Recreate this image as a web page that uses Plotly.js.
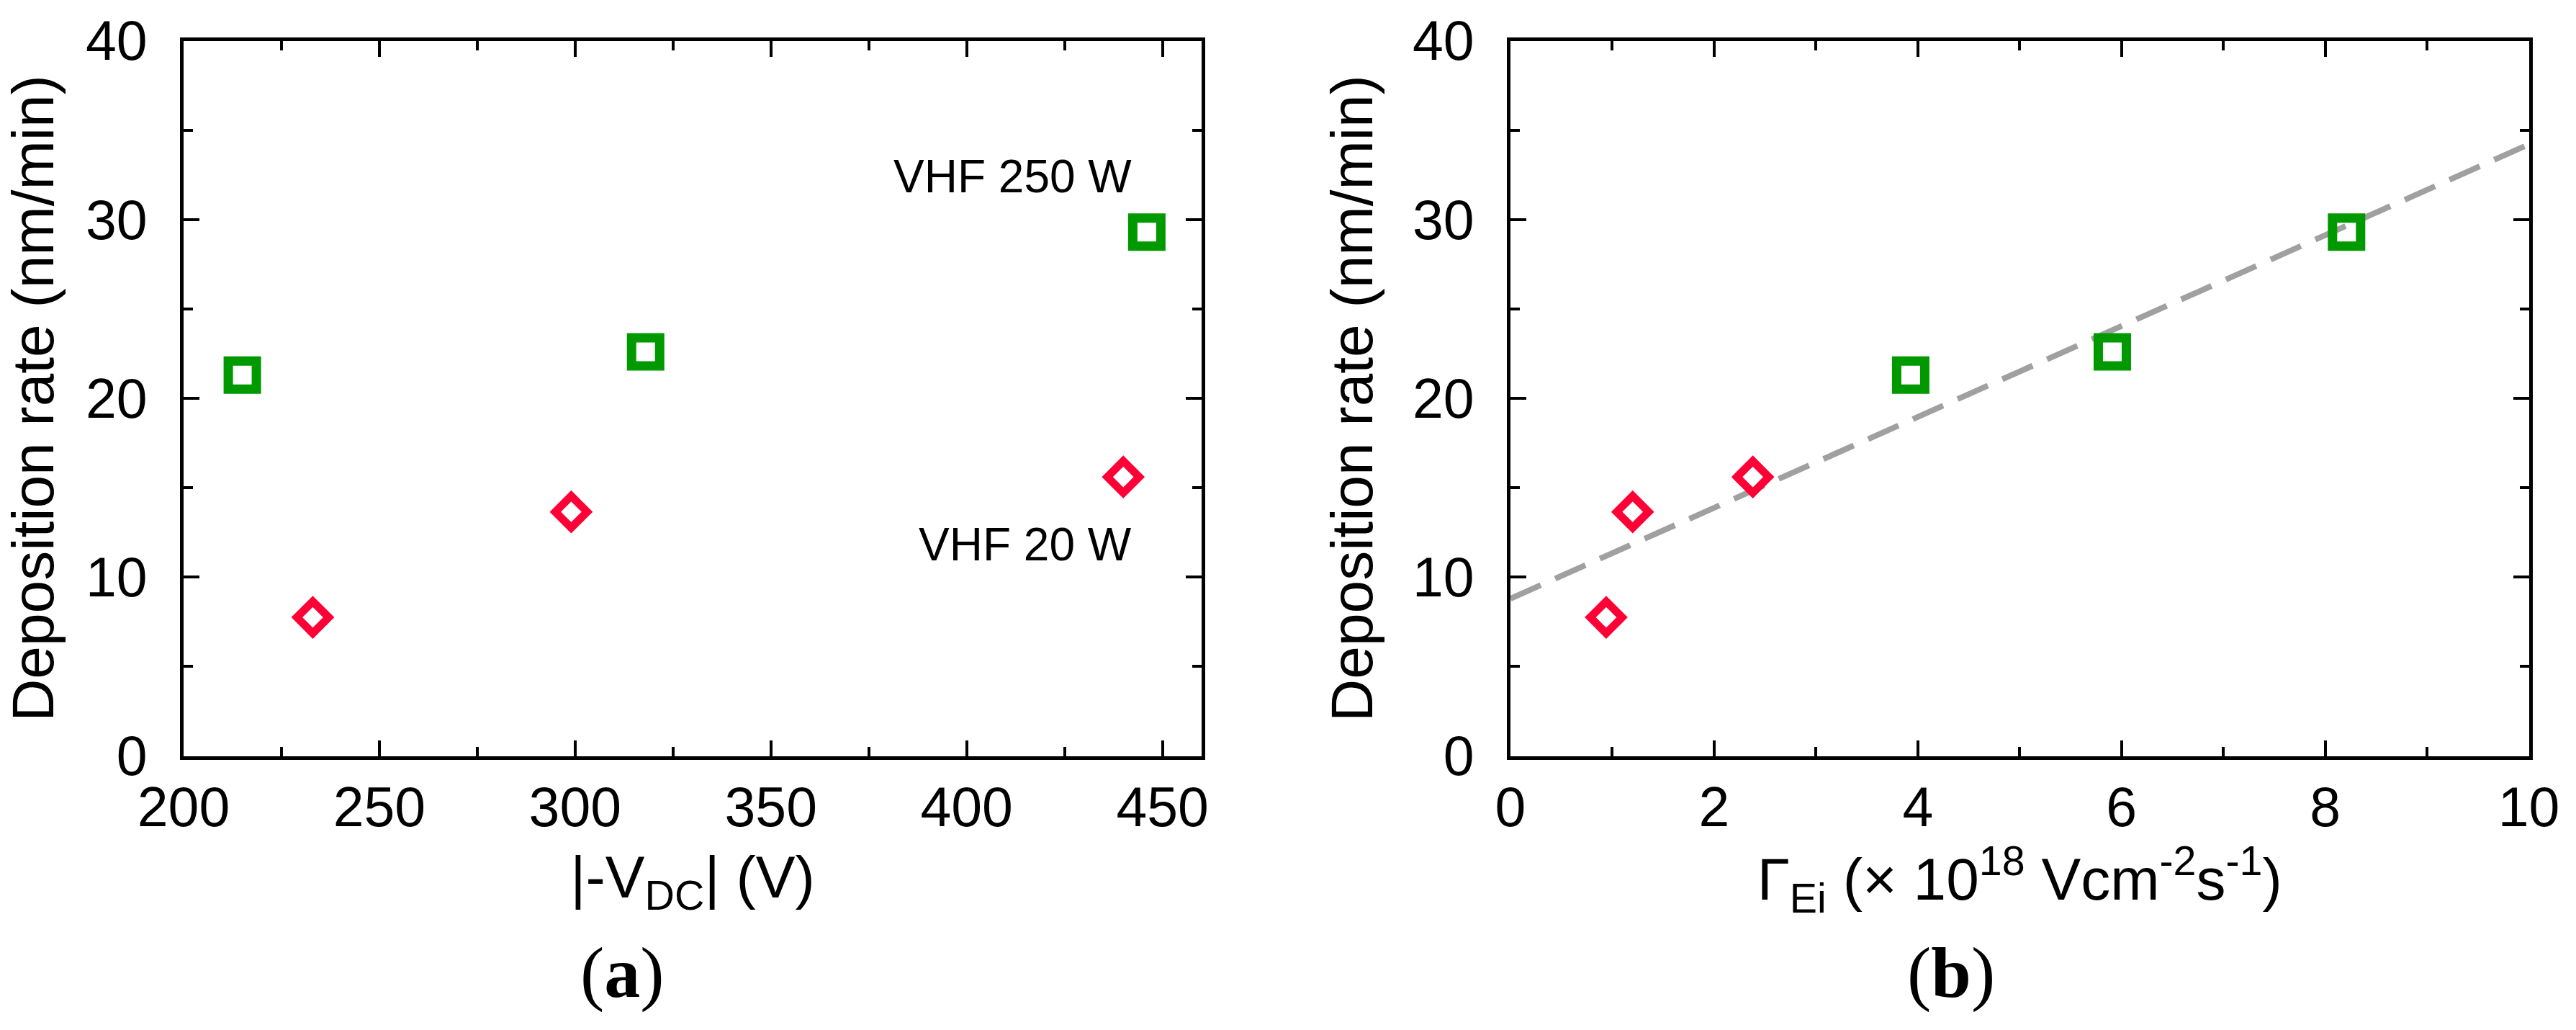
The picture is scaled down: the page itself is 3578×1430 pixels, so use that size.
<!DOCTYPE html>
<html>
<head>
<meta charset="utf-8">
<script src="https://cdn.plot.ly/plotly-3.0.1.min.js"></script>
<style>
  html, body { margin: 0; padding: 0; background: #ffffff; }
  #chart { width: 3578px; height: 1430px; }
</style>
</head>
<body>
<div id="chart"></div>
<script>
// ---------- data ----------
// Panel (a): deposition rate vs |-V_DC|
const vdc250 = [215, 318, 446];          // V, VHF 250 W (green squares)
const rate250 = [21.3, 22.6, 29.3];      // nm/min
const vdc20 = [233, 299, 440];           // V, VHF 20 W (red diamonds)
const rate20 = [7.75, 13.65, 15.6];      // nm/min

// Panel (b): deposition rate vs Gamma_Ei (x 10^18 V cm^-2 s^-1)
const gamma250 = [3.93, 5.91, 8.21];
const gamma20 = [0.94, 1.2, 2.38];

// Linear fit (dashed grey line) end points
const fitX = [0, 10];
const fitY = [8.8, 34.2];

// axis ranges / ticks
const xRangeA = [200, 460];
const xRangeB = [0, 10];
const yRange = [0, 40];

const labelA = "(<b>a</b>)";
const labelB = "(<b>b</b>)";
const note250 = "VHF 250 W";
const note20 = "VHF 20 W";

// ---------- styles ----------
const W = 3578, H = 1430;
const px = v => v / W;          // pixel -> paper x
const py = v => 1 - v / H;      // pixel -> paper y
const SANS = "Liberation Sans, Arial, sans-serif";
const SERIF = "Liberation Serif, Times New Roman, serif";
const GREEN = "#009a00";
const RED = "#ff0036";

const sq = {symbol: "square-open", size: 39, color: GREEN, line: {width: 13, color: GREEN}};
const dm = {symbol: "diamond-open", size: 34, color: RED, line: {width: 11, color: RED}};

const traces = [
  {x: vdc250, y: rate250, type: "scatter", mode: "markers", marker: sq, xaxis: "x", yaxis: "y", name: "VHF 250 W", cliponaxis: false},
  {x: vdc20, y: rate20, type: "scatter", mode: "markers", marker: dm, xaxis: "x", yaxis: "y", name: "VHF 20 W", cliponaxis: false},
  {x: fitX, y: fitY, type: "scatter", mode: "lines", line: {color: "#a0a0a0", width: 8, dash: "46px,22px"}, xaxis: "x2", yaxis: "y2", name: "fit"},
  {x: gamma250, y: rate250, type: "scatter", mode: "markers", marker: sq, xaxis: "x2", yaxis: "y2", name: "VHF 250 W", cliponaxis: false},
  {x: gamma20, y: rate20, type: "scatter", mode: "markers", marker: dm, xaxis: "x2", yaxis: "y2", name: "VHF 20 W", cliponaxis: false}
];

function axisBase(extra) {
  return Object.assign({
    showline: true, linecolor: "#000", linewidth: 5, mirror: "ticks",
    ticks: "inside", ticklen: 22, tickwidth: 4, tickcolor: "#000",
    showgrid: false, zeroline: false, fixedrange: true,
    tickfont: {family: SANS, size: 77, color: "#000"}
  }, extra);
}

const yTitle = {text: "Deposition rate (nm/min)", font: {family: SANS, size: 82, color: "#000"}, standoff: 30};

const layout = {
  width: W, height: H,
  margin: {l: 0, r: 0, t: 0, b: 0},
  paper_bgcolor: "#fff", plot_bgcolor: "#fff",
  showlegend: false,
  xaxis: axisBase({
    domain: [px(255), px(1669)], range: xRangeA, tick0: 200, dtick: 50, anchor: "y",
    minor: {dtick: 25, ticks: "inside", ticklen: 13, tickwidth: 4, tickcolor: "#000", showgrid: false},
    ticklabelstandoff: 0,
    title: {text: "|-V<sub>DC</sub>| (V)", font: {family: SANS, size: 82, color: "#000"}, standoff: 28}
  }),
  yaxis: axisBase({
    domain: [py(1049.5), py(56.5)], range: yRange, tick0: 0, dtick: 10, anchor: "x",
    minor: {dtick: 5, ticks: "inside", ticklen: 13, tickwidth: 4, tickcolor: "#000", showgrid: false},
    ticklabelstandoff: 30,
    title: yTitle
  }),
  xaxis2: axisBase({
    domain: [px(2098), px(3512.5)], range: xRangeB, tick0: 0, dtick: 2, anchor: "y2",
    minor: {dtick: 1, ticks: "inside", ticklen: 13, tickwidth: 4, tickcolor: "#000", showgrid: false},
    ticklabelstandoff: 0,
    title: {text: "Γ<sub>Ei</sub> (× 10<sup>18</sup> Vcm<sup>-2</sup>s<sup>-1</sup>)", font: {family: SANS, size: 82, color: "#000"}, standoff: 28}
  }),
  yaxis2: axisBase({
    domain: [py(1049.5), py(56.5)], range: yRange, tick0: 0, dtick: 10, anchor: "x2",
    minor: {dtick: 5, ticks: "inside", ticklen: 13, tickwidth: 4, tickcolor: "#000", showgrid: false},
    ticklabelstandoff: 30,
    title: yTitle
  }),
  annotations: [
    {text: note250, xref: "x", yref: "y", x: 442.6, y: 32.39, xanchor: "right", yanchor: "middle", showarrow: false,
     font: {family: SANS, size: 64, color: "#000"}},
    {text: note20, xref: "x", yref: "y", x: 442.6, y: 11.81, xanchor: "right", yanchor: "middle", showarrow: false,
     font: {family: SANS, size: 64, color: "#000"}},
    {text: labelA, xref: "paper", yref: "paper", x: px(864), y: py(1350), xanchor: "center", yanchor: "middle", showarrow: false,
     font: {family: SERIF, size: 100, color: "#000"}},
    {text: labelB, xref: "paper", yref: "paper", x: px(2710), y: py(1350), xanchor: "center", yanchor: "middle", showarrow: false,
     font: {family: SERIF, size: 100, color: "#000"}}
  ]
};

Plotly.newPlot("chart", traces, layout, {displayModeBar: false, staticPlot: true});
</script>
</body>
</html>
